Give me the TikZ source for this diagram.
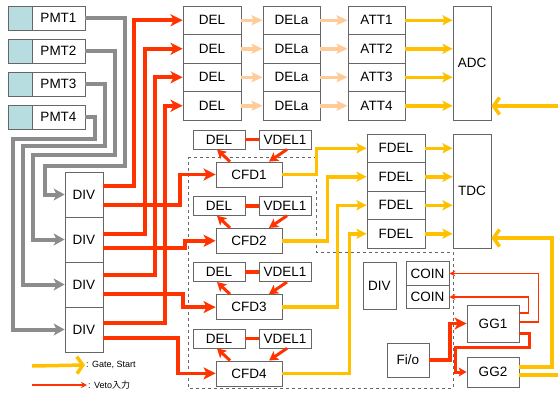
\documentclass[tikz,border=0pt]{standalone}
\usepackage{fontspec}
\setmainfont{Liberation Sans}
\newfontfamily\jpfont{Noto Sans CJK JP}
\usetikzlibrary{arrows.meta,positioning,calc}
\definecolor{boxline}{HTML}{666666}
\definecolor{pmtcyan}{HTML}{B7DDE0}
\definecolor{sigred}{HTML}{FF3300}
\definecolor{gateyel}{HTML}{FFC000}
\definecolor{peach}{HTML}{FFCC99}
\definecolor{cablegray}{HTML}{8C8C8C}

\begin{document}
\begin{tikzpicture}[x=1pt, y=-1pt,
    box/.style      = {draw=boxline, line width=0.8pt, fill=white, inner sep=0pt,
                       font=\fontsize{13.5}{15}\selectfont},
    rowbox/.style   = {box, minimum width=57pt, minimum height=28.5pt},
    tallbox/.style  = {box, minimum width=38pt, minimum height=114pt},
    smallbox/.style = {box, minimum width=52pt, minimum height=19pt},
    legend/.style   = {inner sep=1pt, anchor=west, font=\fontsize{9}{10}\selectfont},
    cable/.style    = {draw=cablegray, line width=4pt, -{Stealth[length=11pt,width=12pt,inset=3pt]}},
    veto/.style     = {draw=sigred, line width=3.8pt, -{Stealth[length=12pt,width=12pt,inset=3pt]}},
    vetoshort/.style= {draw=sigred, line width=3pt, -{Stealth[length=9pt,width=10pt,inset=2pt]}},
    vetothin/.style = {draw=sigred, line width=1.3pt, -{Stealth[length=6pt,width=6pt]}},
    delay/.style    = {draw=peach, line width=3.5pt, -{Stealth[length=11pt,width=10pt,inset=2pt]}},
    gate/.style     = {draw=gateyel, line width=3.5pt, -{Stealth[length=10pt,width=10pt,inset=2pt]}},
    gatebarb/.style = {draw=gateyel, line width=3.5pt, -{Straight Barb[length=6pt,width=17pt]}},
]
\useasboundingbox (0,0) rectangle (558,392);

% dashed frame round the CFD part
\draw[dashed, draw=boxline, line width=0.8pt]
    (188,157) -- (316,157) -- (316,252) -- (453,252) -- (453,388) -- (188,388) -- cycle;

% PMTs and dividers
\foreach \i/\y in {1/18,2/51,3/84,4/117}{
  \node[box, fill=pmtcyan, minimum width=24pt, minimum height=24pt] (pmtc\i) at (20,\y) {};
  \node[box, minimum width=53pt, minimum height=24pt, right=-0.8pt of pmtc\i] (pmt\i) {PMT\i};
}
\foreach \i/\y in {1/194.5,2/239.5,3/284.5,4/329.5}
  \node[box, minimum width=38pt, minimum height=45pt] (div\i) at (84,\y) {DIV};

% ADC / TDC
\node[tallbox] (adc) at (472,63)  {ADC};
\node[tallbox] (tdc) at (472,191) {TDC};

% delay rows
\foreach \i in {1,...,4}{
  \pgfmathsetmacro\y{6+28.5*(\i-0.5)}
  \node[rowbox, minimum width=58pt] (del\i)  at (212,\y)     {DEL};
  \node[rowbox]                     (dela\i) at (291.5,\y)   {DELa};
  \node[rowbox]                     (att\i)  at (376.5,\y)   {ATT\i};
  \node[rowbox, minimum width=58pt] (fdel\i) at (396,\y+128) {FDEL};
  \draw[delay] (del\i) -- (dela\i);
  \draw[delay] (dela\i) -- (att\i);
  \draw[gate]  (att\i.east) -- (att\i.east -| adc.west);
  \draw[gate]  (fdel\i.east) -- (fdel\i.east -| tdc.west);
}

% CFD groups
\foreach \i in {1,...,4}{
  \pgfmathsetmacro\y{174.5+66.3*(\i-1)}
  \node[box, minimum width=66pt, minimum height=25pt] (cfd\i) at (249,\y) {CFD\i};
  \node[smallbox] (sdel\i) at (219,\y-35) {DEL};
  \node[smallbox] (vdel\i) at (285,\y-35) {VDEL1};
  \draw[draw=sigred, line width=3.5pt] (sdel\i) -- (vdel\i);
  \draw[vetoshort] ([xshift=-19pt]cfd\i.north) -- ([xshift=-2pt]sdel\i.south);
  \draw[vetoshort] ([xshift=2pt]vdel\i.south) -- ([xshift=20pt]cfd\i.north);
}

% logic part
\node[box, minimum width=33pt, minimum height=47pt]   (ldiv)  at (379.5,285.5) {DIV};
\node[box, minimum width=43pt, minimum height=23.5pt] (coin1) at (427.5,273.5) {COIN};
\node[box, minimum width=43pt, minimum height=23.5pt] (coin2) at (427.5,297)   {COIN};
\node[box, minimum width=52pt, minimum height=37pt]   (gg1)   at (493,323.5)   {GG1};
\node[box, minimum width=52pt, minimum height=30pt]   (gg2)   at (493,372)     {GG2};
\node[box, minimum width=42pt, minimum height=34pt]   (fio)   at (408,360)     {Fi/o};

% PMT cables into the dividers
\foreach \i/\xa/\ya/\xb in {1/125/166/45, 2/115/155/33, 3/105/146/23, 4/95/139/13}
  \draw[cable] (pmt\i.east) -- (\xa,\i*33-15) -- (\xa,\ya) -- (\xb,\ya) |- (div\i.west);

% divider outputs: to DEL rows and to CFDs
\foreach \i/\xu/\ou/\xl/\ol in {1/134/-8.5/180/10.5, 2/145/-5.5/185/8.5,
                                3/155/-9.5/183/9.5,  4/165/-6.5/178/8.5}{
  \draw[veto] ($(div\i.east)+(0,\ou)$) -| ([xshift=\xu pt-183pt]del\i.west) -- (del\i.west);
  \draw[veto] ($(div\i.east)+(0,\ol)$) -| ([xshift=\xl pt-216pt]cfd\i.west) -- (cfd\i.west);
}

% CFD to FDEL
\foreach \i/\x in {1/317,2/328,3/338,4/350}
  \draw[gate] (cfd\i.east) -| ([xshift=\x pt-367pt]fdel\i.west) -- (fdel\i.west);

% gate generators
\draw[veto] (fio.east) -| ([xshift=-17pt]gg1.west) -- (gg1.west);
\draw[vetothin] ([yshift=1.5pt]gg1.east) -| ([xshift=89pt]coin1.east) -- (coin1.east);
\draw[vetothin] ([yshift=10.5pt]gg1.east) -| ([xshift=79pt]coin2.east) -- (coin2.east);
\draw[draw=sigred, line width=3pt, -{Stealth[length=8pt,width=9pt,inset=2pt]}]
    ([yshift=-9.5pt]gg1.east) -- ++(10,0) -- ++(0,14) -| ([xshift=-11pt]gg2.west) -- (gg2.west);

\coordinate (adcin)   at (558,106);
\coordinate (tdcin)   at (552,238);
\coordinate (gateout) at (558,375);
\draw[gatebarb] (adcin) -- (adcin -| adc.east);
\draw[gatebarb] ([yshift=5pt]gg2.east) -| (tdcin) -- (tdcin -| tdc.east);
\draw[draw=gateyel, line width=3.5pt] ([yshift=-3pt]gg2.east) -- (gateout);

% legend
\coordinate (lg1) at (32,366);
\coordinate (lg2) at (32,385);
\node[legend] (lgate) at (85,365) {: Gate, Start};
\node[legend] (lveto) at (87,385) {: Veto{\jpfont 入力}};
\draw[gatebarb] (lg1) -- (lgate.west);
\draw[vetothin] (lg2) -- (lveto.west);
\end{tikzpicture}
\end{document}
